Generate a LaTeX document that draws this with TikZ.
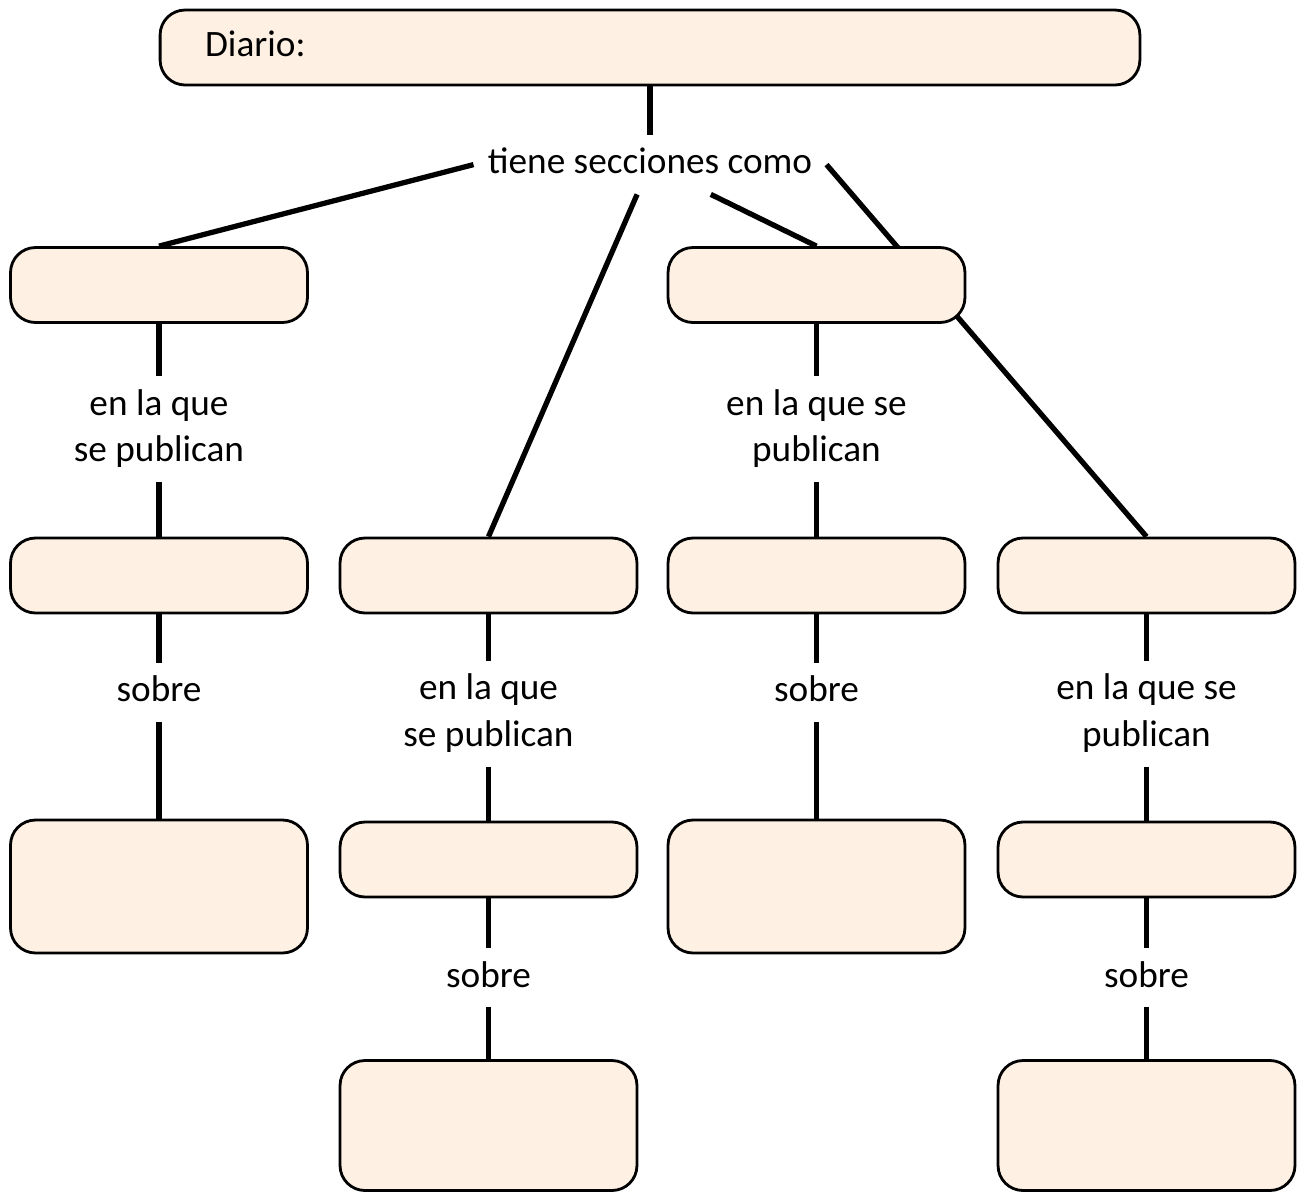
\documentclass[tikz,border=0pt]{standalone}
\usepackage{fontspec}
\setmainfont{Carlito}
\usetikzlibrary{backgrounds}
\begin{document}
\begin{tikzpicture}
    [x=0.02cm,y=-0.02cm,font=\fontsize{21.2}{26.7}\selectfont,
     box/.style={draw=black,line width=1.6pt,fill=boxfill,rounded corners=0.5cm,minimum width=5.94cm,minimum height=1.5cm,inner sep=0pt},
     tallbox/.style={box,minimum height=2.66cm},
     lastbox/.style={box,minimum height=2.6cm},
     lbl/.style={align=center,inner xsep=2pt,inner ysep=3.4pt},
     link/.style={line width=3pt}]

    \definecolor{boxfill}{RGB}{254,240,227}

    \useasboundingbox (0,0) rectangle (1301,1191);

    \node[box,inner xsep=0.9cm,text width=17.8cm,align=left] (diario) at (650,47.5) {\strut Diario:};
    \node[lbl,inner xsep=8pt] (secc) at (650,164.6) {\strut tiene secciones como};

    \node[box] (a1) at (159,285) {};
    \node[box] (a2) at (159,575.5) {};
    \node[tallbox] (a3) at (159,886.5) {};

    \node[box] (b1) at (488.5,575.5) {};
    \node[box] (b2) at (488.5,859.5) {};
    \node[lastbox] (b3) at (488.5,1125.5) {};

    \node[box] (c1) at (816.5,285) {};
    \node[box] (c2) at (816.5,575.5) {};
    \node[tallbox] (c3) at (816.5,886.5) {};

    \node[box] (d1) at (1146.5,575.5) {};
    \node[box] (d2) at (1146.5,859.5) {};
    \node[lastbox] (d3) at (1146.5,1125.5) {};

    \node[lbl] (qa) at (159,429.1) {\strut en la que\\se publican\strut};
    \node[lbl] (sa) at (159,692.6) {\strut sobre};
    \node[lbl] (qb) at (488.5,714) {\strut en la que\\se publican\strut};
    \node[lbl] (sb) at (488.5,977.6) {\strut sobre};
    \node[lbl] (qc) at (816.5,429.1) {\strut en la que se\\publican\strut};
    \node[lbl] (sc) at (816.5,692.6) {\strut sobre};
    \node[lbl] (qd) at (1146.5,714) {\strut en la que se\\publican\strut};
    \node[lbl] (sd) at (1146.5,977.6) {\strut sobre};

    \begin{scope}[on background layer]
        \draw[link] (diario) -- (secc);
        \draw[link] (secc.west) -- (a1.north);
        \draw[link] (secc) -- (b1.north);
        \draw[link] (secc) -- (c1.north);
        \draw[link] (secc.east) -- (d1.north);
        \foreach \col in {a,b,c,d}
            \draw[link] (\col1) -- (q\col) -- (\col2) -- (s\col) -- (\col3);
    \end{scope}

\end{tikzpicture}
\end{document}
